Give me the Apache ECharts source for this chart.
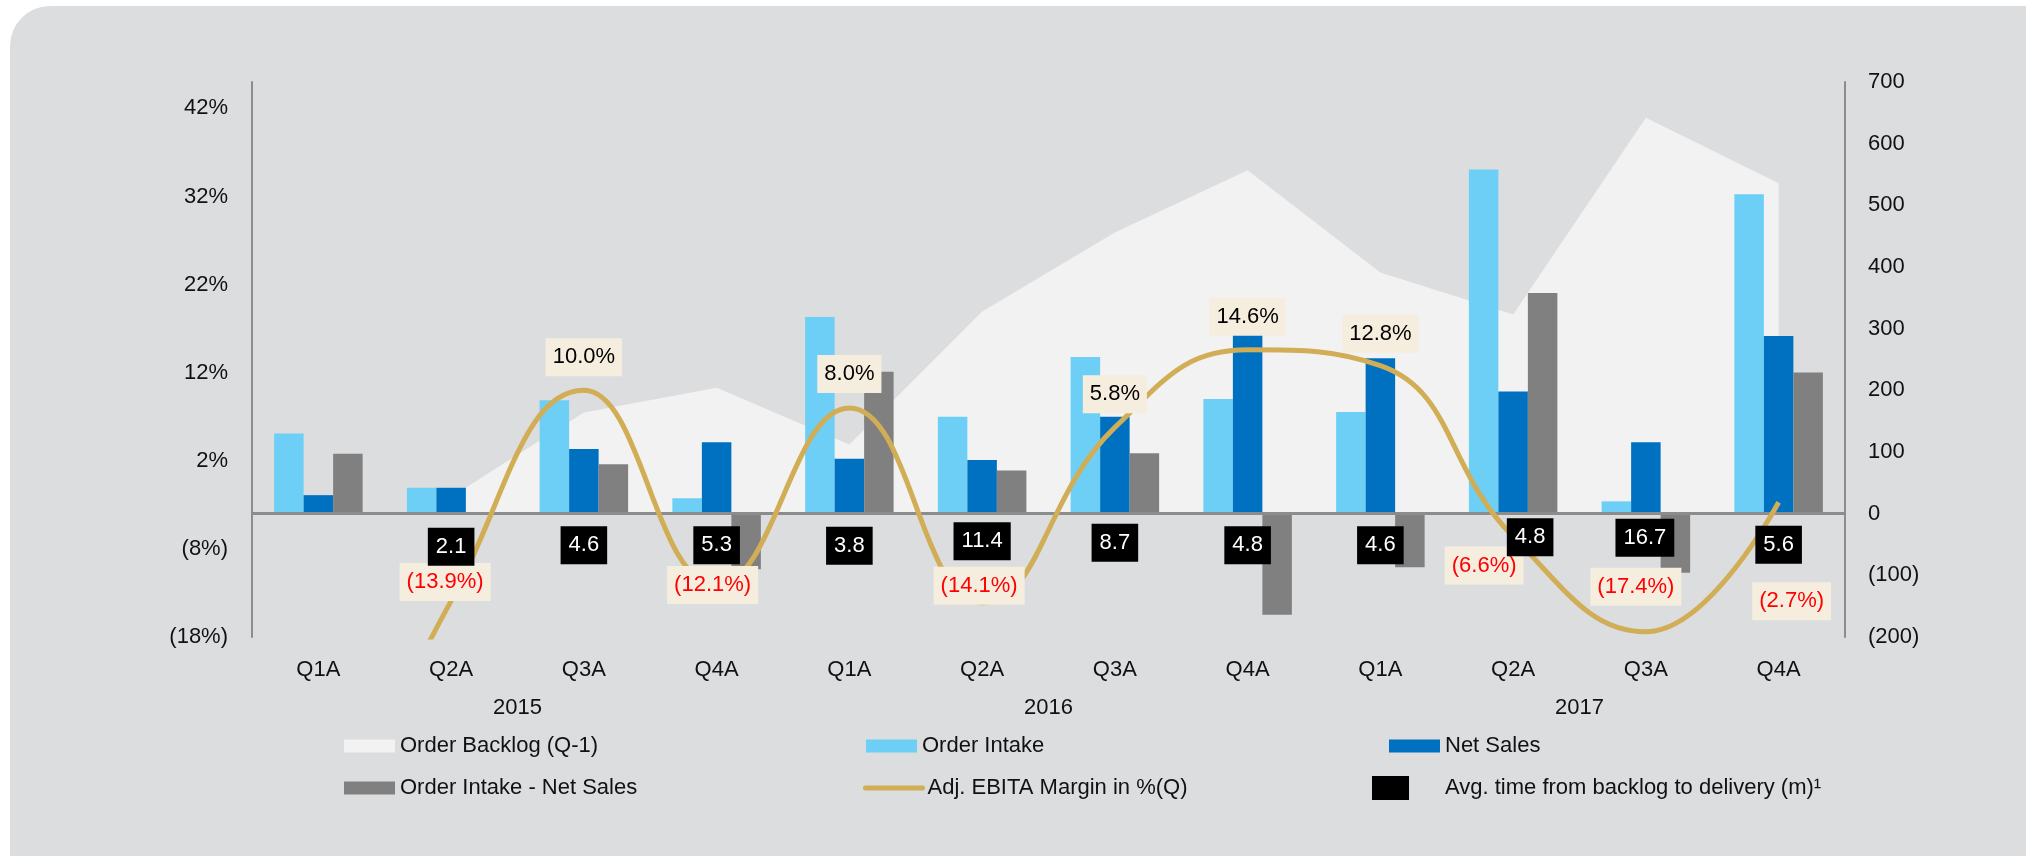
<!DOCTYPE html>
<html><head><meta charset="utf-8">
<script src="https://cdn.jsdelivr.net/npm/echarts@6/dist/echarts.min.js"></script>
<style>html,body{margin:0;padding:0;background:#fff;}#c{width:2026px;height:856px;}</style>
</head><body><div id="c"></div>
<script>
// ---- data ----
const quarters = ['Q1A','Q2A','Q3A','Q4A','Q1A','Q2A','Q3A','Q4A','Q1A','Q2A','Q3A','Q4A'];
const years = ['2015','2016','2017'];
const orderBacklog = [null, 27, 164, 204, 112, 328, 456, 557, 391, 323, 642, 536];
const orderIntake = [130, 42, 184, 25, 319, 157, 254, 186, 165, 558, 20, 518];
const netSales = [30, 42, 105, 116, 89, 87, 157, 290, 252, 198, 116, 288];
const intakeMinusSales = [97, 0, 80, -90, 230, 70, 98, -164, -87, 358, -96, 229];
const ebitaMargin = [-45, -13.9, 10.0, -12.1, 8.0, -14.1, 5.8, 14.6, 12.8, -6.6, -17.4, -2.7];
const avgTime = [null, 2.1, 4.6, 5.3, 3.8, 11.4, 8.7, 4.8, 4.6, 4.8, 16.7, 5.6];
const leftTicks = [-18, -8, 2, 12, 22, 32, 42];
const rightMin = -200, rightMax = 700, rightStep = 100;
const leftMin = -18, leftMax = 45;

// ---- label placement (style only) ----
const ebitaLabelOffset = [[0,0],[-6,-19],[0,-33],[-4,0],[0,-34],[-3,-17],[0,-33],[0,-33],[0,-32],[-29,29],[-10,-45],[13,99]];
const avgLabelOffset = [[0,0],[0,33],[0,31.5],[0,31.5],[0,32],[0,27.5],[0,29],[0,31.5],[0,31.5],[17,23.5],[-1,24],[0,31]];

const FONT = 'Liberation Sans, Arial, sans-serif';
const TXT = '#111';
const AXIS = '#8C8C8C';
const GOLD = '#D1AD55';

const names = {
  backlog: 'Order Backlog (Q-1)',
  intake: 'Order Intake',
  sales: 'Net Sales',
  diff: 'Order Intake - Net Sales',
  ebita: 'Adj. EBITA Margin in %(Q)',
  avg: 'Avg. time from backlog to delivery (m)\u00B9'
};

const pct = v => v < 0 ? '(' + Math.abs(v).toFixed(1) + '%)' : v.toFixed(1) + '%';

function legendAt(left, top, item, extra) {
  return Object.assign({
    left: left, top: top, padding: 0, selectedMode: false,
    itemWidth: 51, itemHeight: 13,
    textStyle: { fontFamily: FONT, fontSize: 22, color: TXT },
    data: [item]
  }, extra || {});
}

const chart = echarts.init(document.getElementById('c'), null, { renderer: 'canvas' });
chart.setOption({
  animation: false,
  backgroundColor: '#ffffff',
  textStyle: { fontFamily: FONT },
  graphic: [{
    type: 'rect', z: -100, silent: true,
    shape: { x: 10, y: 6, width: 2100, height: 900, r: [40, 0, 0, 0] },
    style: { fill: '#DCDDDF' }
  }],
  grid: { left: 252, right: 181, top: 82, bottom: 219, containLabel: false },
  legend: [
    legendAt(344, 735, { name: names.backlog, icon: 'rect' }),
    legendAt(344, 777, { name: names.diff, icon: 'rect' }),
    legendAt(866, 735, { name: names.intake, icon: 'rect' }),
    legendAt(863, 777, { name: names.ebita },
      { itemWidth: 57, lineStyle: { width: 5, color: GOLD, cap: 'round' } }),
    legendAt(1389, 735, { name: names.sales, icon: 'rect' }),
    legendAt(1372, 776, { name: names.avg, icon: 'rect', itemStyle: { color: '#000', opacity: 1 } },
      { itemWidth: 37, itemHeight: 24,
        itemStyle: { color: '#000', opacity: 1 },
        textStyle: { fontFamily: FONT, fontSize: 22, color: TXT, padding: [0, 0, 0, 31] } })
  ],
  xAxis: [
    {
      type: 'category', data: quarters, position: 'bottom',
      axisLine: { show: false }, axisTick: { show: false },
      axisLabel: { fontSize: 22, color: TXT, margin: 22, fontFamily: FONT, interval: 0 }
    },
    {
      type: 'category', data: years, position: 'bottom', offset: 38,
      axisLine: { show: false }, axisTick: { show: false },
      axisLabel: { fontSize: 22, color: TXT, margin: 22, fontFamily: FONT, interval: 0 }
    }
  ],
  yAxis: [
    {
      type: 'value', position: 'left', min: leftMin, max: leftMax,
      axisLine: { show: true, lineStyle: { color: AXIS, width: 2 } },
      axisTick: { show: false }, splitLine: { show: false },
      axisLabel: {
        customValues: leftTicks, fontSize: 22, color: TXT, margin: 24, fontFamily: FONT,
        formatter: v => v < 0 ? '(' + Math.abs(v) + '%)' : v + '%'
      }
    },
    {
      type: 'value', position: 'right', min: rightMin, max: rightMax, interval: rightStep,
      axisLine: { show: true, lineStyle: { color: AXIS, width: 2 } },
      axisTick: { show: false }, splitLine: { show: false },
      axisLabel: {
        fontSize: 22, color: TXT, margin: 23, fontFamily: FONT,
        formatter: v => v < 0 ? '(' + Math.abs(v) + ')' : String(v)
      }
    }
  ],
  series: [
    {
      name: names.backlog, type: 'line', xAxisIndex: 0, yAxisIndex: 1, z: 1,
      data: orderBacklog, symbol: 'none', connectNulls: false,
      itemStyle: { color: '#F2F2F2' },
      lineStyle: { width: 0, color: '#F2F2F2' },
      areaStyle: { color: '#F2F2F2', opacity: 1 }
    },
    {
      name: names.intake, type: 'bar', xAxisIndex: 0, yAxisIndex: 1, z: 2,
      data: orderIntake, barWidth: 29.5, barGap: '0%',
      itemStyle: { color: '#6DCFF6' }
    },
    {
      name: names.sales, type: 'bar', xAxisIndex: 0, yAxisIndex: 1, z: 2,
      data: netSales, barWidth: 29.5, barGap: '0%',
      itemStyle: { color: '#0070C0' }
    },
    {
      name: names.diff, type: 'bar', xAxisIndex: 0, yAxisIndex: 1, z: 2,
      data: intakeMinusSales, barWidth: 29.5, barGap: '0%',
      itemStyle: { color: '#808080' },
      markLine: {
        silent: true, symbol: ['none', 'none'], animation: false,
        label: { show: false },
        lineStyle: { color: AXIS, width: 3, type: 'solid' },
        data: [{ yAxis: 0 }]
      }
    },
    {
      name: names.ebita, type: 'line', xAxisIndex: 0, yAxisIndex: 0, z: 5,
      smooth: 0.45, symbol: 'circle', symbolSize: 2, showSymbol: true,
      itemStyle: { color: 'rgba(0,0,0,0)' },
      lineStyle: { color: GOLD, width: 5 },
      data: ebitaMargin.map((v, i) => ({
        value: v,
        label: {
          show: v >= leftMin,
          color: v < 0 ? '#FF0000' : '#000000',
          offset: ebitaLabelOffset[i]
        }
      })),
      label: {
        position: 'inside', fontSize: 22, fontFamily: FONT,
        backgroundColor: '#F5EEDF', padding: [7, 7], lineHeight: 24,
        formatter: p => pct(ebitaMargin[p.dataIndex])
      }
    },
    {
      name: names.avg, type: 'scatter', xAxisIndex: 0, yAxisIndex: 1, z: 8,
      symbol: 'rect', symbolSize: 1,
      itemStyle: { color: 'rgba(0,0,0,0)', opacity: 1 },
      data: avgTime.map((v, i) => v == null ? '-' : ({
        value: 0,
        label: { offset: avgLabelOffset[i] }
      })),
      label: {
        show: true, position: 'inside', fontSize: 22, fontFamily: FONT, opacity: 1,
        color: '#ffffff', backgroundColor: '#000000', padding: [7, 8], lineHeight: 24,
        formatter: p => avgTime[p.dataIndex].toFixed(1)
      }
    }
  ]
});
</script>
</body></html>
